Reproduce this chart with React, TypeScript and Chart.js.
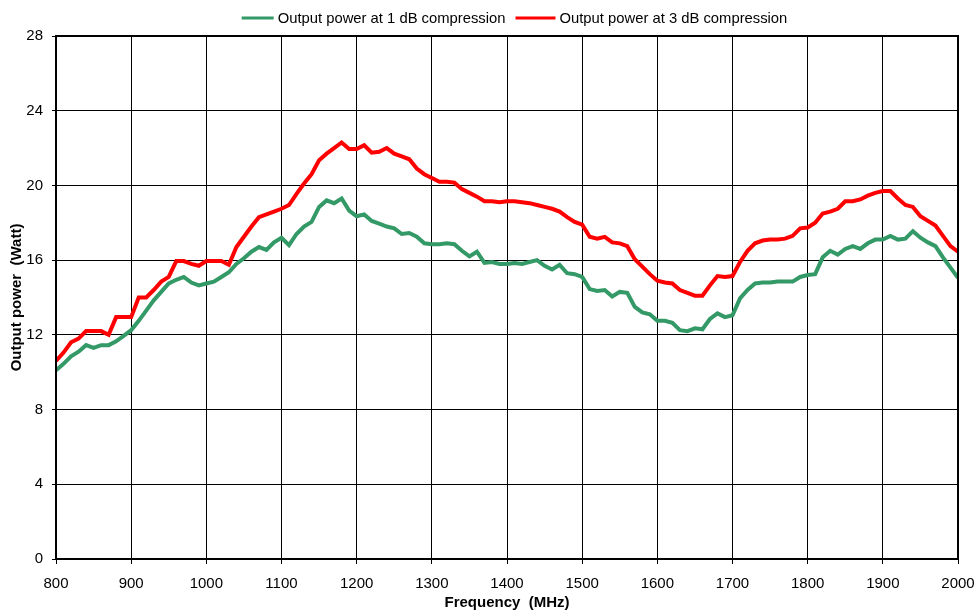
import React, { useEffect, useRef } from "react";
import { Chart, registerables } from "chart.js";

Chart.register(...registerables);

const frequencies = [
  800, 810, 820, 830, 840, 850, 860, 870, 880, 890,
  900, 910, 920, 930, 940, 950, 960, 970, 980, 990,
  1000, 1010, 1020, 1030, 1040, 1050, 1060, 1070, 1080, 1090,
  1100, 1110, 1120, 1130, 1140, 1150, 1160, 1170, 1180, 1190,
  1200, 1210, 1220, 1230, 1240, 1250, 1260, 1270, 1280, 1290,
  1300, 1310, 1320, 1330, 1340, 1350, 1360, 1370, 1380, 1390,
  1400, 1410, 1420, 1430, 1440, 1450, 1460, 1470, 1480, 1490,
  1500, 1510, 1520, 1530, 1540, 1550, 1560, 1570, 1580, 1590,
  1600, 1610, 1620, 1630, 1640, 1650, 1660, 1670, 1680, 1690,
  1700, 1710, 1720, 1730, 1740, 1750, 1760, 1770, 1780, 1790,
  1800, 1810, 1820, 1830, 1840, 1850, 1860, 1870, 1880, 1890,
  1900, 1910, 1920, 1930, 1940, 1950, 1960, 1970, 1980, 1990,
  2000,
];

const power1dB = [
  10.1, 10.45, 10.85, 11.1, 11.45, 11.3, 11.45, 11.45, 11.65, 11.95,
  12.25, 12.75, 13.3, 13.85, 14.3, 14.75, 14.95, 15.1, 14.8, 14.65,
  14.75, 14.85, 15.1, 15.35, 15.8, 16.1, 16.45, 16.7, 16.55, 16.95,
  17.2, 16.8, 17.4, 17.8, 18.05, 18.85, 19.2, 19.05, 19.3, 18.65,
  18.35, 18.45, 18.1, 17.95, 17.8, 17.7, 17.4, 17.45, 17.25, 16.9,
  16.85, 16.85, 16.9, 16.85, 16.5, 16.2, 16.45, 15.85, 15.9, 15.8,
  15.8, 15.85, 15.8, 15.9, 16.0, 15.7, 15.5, 15.75, 15.3, 15.25,
  15.1, 14.45, 14.35, 14.4, 14.05, 14.3, 14.25, 13.5, 13.2, 13.1,
  12.75, 12.75, 12.65, 12.25, 12.2, 12.35, 12.3, 12.85, 13.15, 12.95,
  13.05, 13.95, 14.4, 14.75, 14.8, 14.8, 14.85, 14.85, 14.85, 15.1,
  15.2, 15.25, 16.15, 16.5, 16.3, 16.6, 16.75, 16.6, 16.9, 17.1,
  17.1, 17.3, 17.1, 17.15, 17.55, 17.2, 16.95, 16.75, 16.15, 15.6,
  15.05,
];

const power3dB = [
  10.6, 11.05, 11.6, 11.8, 12.2, 12.2, 12.2, 12.0, 12.95, 12.95,
  12.95, 14.0, 14.0, 14.4, 14.85, 15.1, 15.95, 15.95, 15.8, 15.7,
  15.95, 15.95, 15.95, 15.75, 16.7, 17.25, 17.8, 18.3, 18.45, 18.6,
  18.75, 18.95, 19.55, 20.1, 20.6, 21.35, 21.7, 22.0, 22.3, 21.95,
  21.95, 22.15, 21.75, 21.8, 22.0, 21.7, 21.55, 21.4, 20.9, 20.6,
  20.4, 20.2, 20.2, 20.15, 19.8, 19.6, 19.4, 19.15, 19.15, 19.1,
  19.15, 19.15, 19.1, 19.05, 18.95, 18.85, 18.75, 18.6, 18.3, 18.05,
  17.9, 17.25, 17.15, 17.25, 16.95, 16.9, 16.75, 16.05, 15.65, 15.25,
  14.9, 14.8, 14.75, 14.4, 14.25, 14.1, 14.1, 14.65, 15.15, 15.1,
  15.15, 15.9, 16.5, 16.9, 17.05, 17.1, 17.1, 17.15, 17.3, 17.7,
  17.75, 18.0, 18.5, 18.6, 18.75, 19.15, 19.15, 19.25, 19.45, 19.6,
  19.7, 19.7, 19.3, 18.95, 18.85, 18.35, 18.1, 17.85, 17.3, 16.75,
  16.45,
];

const seriesLabels = [
  "Output power at 1 dB compression",
  "Output power at 3 dB compression",
];
const seriesColors = ["#339966", "#ff0000"];

const xTitle = "Frequency  (MHz)";
const yTitle = "Output power  (Watt)";

const FONT = "'Liberation Sans', Arial, sans-serif";

const frameAndLegend = {
  id: "frameAndLegend",
  afterDraw(chart: any) {
    const { ctx, chartArea } = chart;
    ctx.save();
    ctx.strokeStyle = "#000";
    ctx.lineWidth = 2;
    ctx.strokeRect(chartArea.left, chartArea.top, chartArea.right - chartArea.left, chartArea.bottom - chartArea.top);
    ctx.font = `14.8px ${FONT}`;
    ctx.textBaseline = "middle";
    ctx.textAlign = "left";
    const lineLens = [32, 40];
    const gap = 4;
    const spacing = 10;
    const widths = seriesLabels.map((t) => ctx.measureText(t).width);
    const total = widths.reduce((a, w, i) => a + lineLens[i] + gap + w, 0) + spacing;
    const cx = (chartArea.left + chartArea.right) / 2 + 7.5;
    let x = cx - total / 2;
    const y = 18;
    seriesLabels.forEach((t, i) => {
      ctx.strokeStyle = seriesColors[i];
      ctx.lineWidth = 3;
      ctx.beginPath();
      ctx.moveTo(x, y);
      ctx.lineTo(x + lineLens[i], y);
      ctx.stroke();
      x += lineLens[i] + gap;
      ctx.fillStyle = "#000";
      ctx.fillText(t, x, y + 1);
      x += widths[i] + spacing;
    });
    ctx.restore();
  },
};

export default function App() {
  const canvasRef = useRef<HTMLCanvasElement | null>(null);

  useEffect(() => {
    if (!canvasRef.current) return;
    const chart = new Chart(canvasRef.current, {
      type: "line",
      data: {
        datasets: [
          {
            label: seriesLabels[0],
            data: frequencies.map((f, i) => ({ x: f, y: power1dB[i] })),
            borderColor: seriesColors[0],
            backgroundColor: seriesColors[0],
            borderWidth: 4,
            pointRadius: 0,
            tension: 0,
          },
          {
            label: seriesLabels[1],
            data: frequencies.map((f, i) => ({ x: f, y: power3dB[i] })),
            borderColor: seriesColors[1],
            backgroundColor: seriesColors[1],
            borderWidth: 4,
            pointRadius: 0,
            tension: 0,
          },
        ],
      },
      options: {
        animation: false,
        responsive: true,
        maintainAspectRatio: false,
        layout: { padding: { top: 36, right: 19, left: 0, bottom: 0 } },
        plugins: {
          legend: { display: false },
          tooltip: { enabled: false },
        },
        scales: {
          x: {
            type: "linear",
            min: 800,
            max: 2000,
            ticks: {
              stepSize: 100,
              color: "#000",
              font: { family: FONT, size: 15 },
              padding: 11,
              maxRotation: 0,
              callback: (v: any) => String(v),
            },
            grid: { color: "#000", lineWidth: 1, tickLength: 5, tickColor: "#000" },
            border: { display: true, color: "#000", width: 2 },
            title: {
              display: true,
              text: xTitle,
              color: "#000",
              font: { family: FONT, size: 15, weight: "bold" },
              padding: { top: 0, bottom: -2 },
            },
            afterFit(scale: any) {
              scale.height = 51;
              scale.paddingRight = 0;
              scale.paddingLeft = 0;
            },
          },
          y: {
            min: 0,
            max: 28,
            ticks: {
              stepSize: 4,
              color: "#000",
              font: { family: FONT, size: 15 },
              padding: 9,
            },
            grid: { color: "#000", lineWidth: 1, tickLength: 4, tickColor: "#000" },
            border: { display: true, color: "#000", width: 2 },
            title: {
              display: true,
              text: yTitle,
              color: "#000",
              font: { family: FONT, size: 15, weight: "bold" },
              padding: { top: 8, bottom: 0 },
            },
            afterFit(scale: any) {
              scale.width = 56;
            },
          },
        },
      },
      plugins: [frameAndLegend],
    });
    return () => chart.destroy();
  }, []);

  return (
    <div style={{ position: "fixed", left: 0, top: 0, width: 977, height: 610 }}>
      <canvas ref={canvasRef} />
    </div>
  );
}
